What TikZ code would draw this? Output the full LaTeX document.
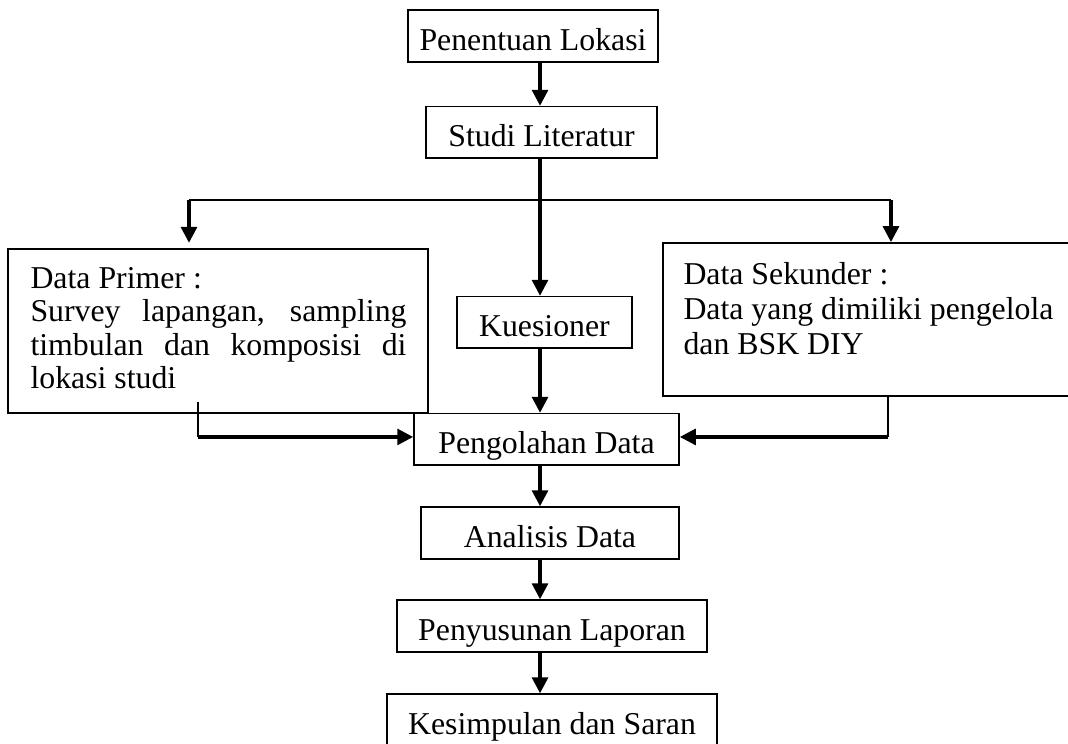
\documentclass[tikz,border=0pt]{standalone}
\usepackage{fontspec}
\setmainfont{Liberation Serif}
\usetikzlibrary{arrows.meta}
\tikzset{
  % plain framed step, text sitting a little low as in the original
  box/.style   = {rectangle, draw, line width=0.65pt, inner sep=0pt,
                  text height=15.2pt, text depth=4.3pt, font=\fontsize{12}{14}\selectfont},
  panel/.style = {rectangle, draw, line width=0.65pt, inner sep=0pt},
  txt/.style   = {inner sep=0pt, align=justify, font=\fontsize{12}{12.5}\selectfont},
  arr/.style   = {-{Triangle[length=6pt,width=6pt]}, line width=1.2pt},
  link/.style  = {line width=0.5pt},
}
\newcommand{\fillline}[1]{\makebox[\hsize][s]{#1}}

\begin{document}
\begin{tikzpicture}
\useasboundingbox (0,0) rectangle (14.166,9.868);
\coordinate (spine) at (7.163,0);
\node[box, minimum width=33.16mm] (lok)    at (7.070,9.391) {Penentuan Lokasi};
\node[box, minimum width=30.64mm] (studi)  at (7.183,8.111) {Studi Literatur};
\node[box, minimum width=23.21mm] (kues)   at (7.222,5.591) {Kuesioner};
\node[box, minimum width=35.15mm] (olah)   at (7.249,4.039) {Pengolahan Data};
\node[box, minimum width=34.22mm] (anal)   at (7.295,2.799) {Analisis Data};
\node[box, minimum width=41.12mm] (susun)  at (7.322,1.565) {Penyusunan Laporan};
\node[box, minimum width=43.77mm] (simpul) at (7.322,0.318) {Kesimpulan dan Saran};
% side panels
\node[panel, minimum width=55.71mm, minimum height=21.75mm] (primer) at (2.892,5.478) {};
\node[panel, minimum width=54.65mm, minimum height=20.29mm] (sek)    at (11.526,5.631) {};
\node[txt, text width=141.9pt, anchor=north west] (primertxt) at (0.398,6.323)
  {Data Primer :\\ \fillline{Survey lapangan, sampling}\\ \fillline{timbulan dan komposisi di}\\ lokasi studi};
\node[txt, text width=140pt, font=\fontsize{12}{13.2}\selectfont, anchor=north west] (sektxt) at (9.059,6.389)
  {Data Sekunder :\\ Data yang dimiliki pengelola\\ dan BSK DIY};
% main line
\foreach \a/\b in {lok/studi,studi/kues,kues/olah,olah/anal,anal/susun,susun/simpul}
  {\draw[arr] (\a.south -| spine) -- (\b.north -| spine);}
% split to both panels
\coordinate (sl) at (2.507,7.216);
\coordinate (sr) at (11.818,7.216);
\draw[link] (sl) -- (sr);
\draw[arr, shorten >=2pt] (sl) -- (sl |- primer.north);
\draw[arr] (sr) -- (sr |- sek.north);
% panels back into processing
\coordinate (ptop) at (2.626,4.536);
\coordinate (pc) at (2.626,4.072);
\coordinate (sc) at (11.778,4.072);
\draw[link] (ptop) -- (pc);
\draw[arr] (pc) -- (pc -| olah.west);
\draw[link] (sek.south -| sc) -- (sc);
\draw[arr] (sc) -- (sc -| olah.east);
\end{tikzpicture}
\end{document}
